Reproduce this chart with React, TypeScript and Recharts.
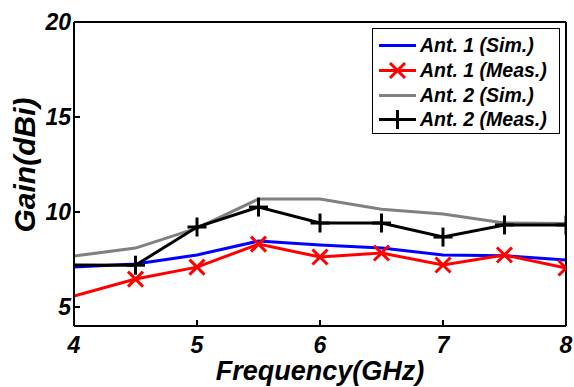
import React from 'react';
import { LineChart, Line, XAxis, YAxis } from 'recharts';

const freqs = [4, 4.5, 5, 5.5, 6, 6.5, 7, 7.5, 8];
const ant1Sim = [7.1, 7.26, 7.74, 8.47, 8.26, 8.1, 7.74, 7.7, 7.47];
const ant1Meas = [5.58, 6.47, 7.1, 8.31, 7.63, 7.84, 7.21, 7.74, 7.05];
const ant2Sim = [7.68, 8.1, 9.15, 10.68, 10.68, 10.15, 9.9, 9.42, 9.4];
const ant2Meas = [7.21, 7.2, 9.21, 10.26, 9.42, 9.42, 8.68, 9.32, 9.32];
const xTicks = [4, 5, 6, 7, 8];
const yTicks = [5, 10, 15, 20];
const seriesNames = ['Ant. 1 (Sim.)', 'Ant. 1 (Meas.)', 'Ant. 2 (Sim.)', 'Ant. 2 (Meas.)'];
const seriesColors = ['#0000ff', '#ff0000', '#808080', '#000000'];
const seriesMarkers = ['none', 'x', 'none', 'plus'];

const data = freqs.map((f, i) => ({
  f,
  a1s: ant1Sim[i],
  a1m: ant1Meas[i],
  a2s: ant2Sim[i],
  a2m: ant2Meas[i],
}));

const FONT = '"Liberation Sans", Arial, Helvetica, sans-serif';

const drawX = (cx: number, cy: number, color: string, key?: string) => {
  const s = 7.5;
  return (
    <g key={key}>
      <line x1={cx - s} y1={cy - s} x2={cx + s} y2={cy + s} stroke={color} strokeWidth={3} />
      <line x1={cx - s} y1={cy + s} x2={cx + s} y2={cy - s} stroke={color} strokeWidth={3} />
    </g>
  );
};

const drawPlus = (cx: number, cy: number, color: string, key?: string) => {
  const s = 9.5;
  return (
    <g key={key}>
      <line x1={cx - s} y1={cy} x2={cx + s} y2={cy} stroke={color} strokeWidth={3} />
      <line x1={cx} y1={cy - s} x2={cx} y2={cy + s} stroke={color} strokeWidth={3} />
    </g>
  );
};

const xDot = (props: any) => {
  const { cx, cy, index } = props;
  if (index === 0 || cx == null || cy == null) return <g key={`xd${index}`} />;
  return drawX(cx, cy, '#ff0000', `xd${index}`);
};

const plusDot = (props: any) => {
  const { cx, cy, index } = props;
  if (index === 0 || cx == null || cy == null) return <g key={`pd${index}`} />;
  return drawPlus(cx, cy, '#000000', `pd${index}`);
};

const tickStyle = {
  fill: '#000',
  fontSize: 23,
  fontWeight: 'bold' as const,
  fontStyle: 'italic' as const,
  fontFamily: FONT,
};

const YLabel = (props: any) => {
  const vb = props.viewBox || { x: 0, y: 22, width: 74, height: 304 };
  const cx = vb.x + 24;
  const cy = vb.y + vb.height / 2 - 9;
  return (
    <text
      x={cx}
      y={cy}
      dy="0.36em"
      transform={`rotate(-90 ${cx} ${cy})`}
      textAnchor="middle"
      fill="#000"
      fontSize={30}
      fontWeight="bold"
      fontStyle="italic"
      fontFamily={FONT}
    >
      Gain(dBi)
    </text>
  );
};

const axisLine = { stroke: '#000', strokeWidth: 2 };

export default function App() {
  return (
    <div style={{ position: 'absolute', left: 0, top: 0, width: 574, height: 387, background: '#fff' }}>
      <LineChart width={574} height={387} data={data} margin={{ top: 0, right: 0, bottom: 0, left: 0 }}>
        <XAxis
          xAxisId="b"
          dataKey="f"
          type="number"
          domain={[4, 8]}
          ticks={xTicks}
          allowDataOverflow
          orientation="bottom"
          height={61}
          axisLine={axisLine}
          tickLine={axisLine}
          tickSize={-6}
          tickMargin={17}
          tick={tickStyle}
          label={{
            value: 'Frequency(GHz)',
            position: 'insideBottom',
            offset: 7,
            fill: '#000',
            fontSize: 27,
            fontWeight: 'bold',
            fontStyle: 'italic',
            fontFamily: FONT,
          }}
        />
        <XAxis
          xAxisId="t"
          dataKey="f"
          type="number"
          domain={[4, 8]}
          ticks={xTicks}
          allowDataOverflow
          orientation="top"
          height={22}
          axisLine={axisLine}
          tickLine={axisLine}
          tickSize={-6}
          tick={false}
        />
        <YAxis
          yAxisId="l"
          type="number"
          domain={[4, 20]}
          ticks={yTicks}
          allowDataOverflow
          orientation="left"
          width={74}
          axisLine={axisLine}
          tickLine={axisLine}
          tickSize={-6}
          tickMargin={9}
          tick={tickStyle}
          label={{ content: YLabel }}
        />
        <YAxis
          yAxisId="r"
          type="number"
          domain={[4, 20]}
          ticks={yTicks}
          allowDataOverflow
          orientation="right"
          width={8}
          axisLine={axisLine}
          tickLine={axisLine}
          tickSize={-6}
          tick={false}
        />
        <Line xAxisId="b" yAxisId="l" type="linear" dataKey="a1s" stroke="#0000ff" strokeWidth={3} dot={false} isAnimationActive={false} />
        <Line xAxisId="b" yAxisId="l" type="linear" dataKey="a1m" stroke="#ff0000" strokeWidth={3} dot={xDot} isAnimationActive={false} />
        <Line xAxisId="b" yAxisId="l" type="linear" dataKey="a2s" stroke="#808080" strokeWidth={3} dot={false} isAnimationActive={false} />
        <Line xAxisId="b" yAxisId="l" type="linear" dataKey="a2m" stroke="#000000" strokeWidth={3} dot={plusDot} isAnimationActive={false} />
      </LineChart>
      <div
        style={{
          position: 'absolute',
          left: 372,
          top: 28,
          width: 188,
          height: 106,
          boxSizing: 'border-box',
          border: '1.5px solid #000',
          background: '#fff',
        }}
      >
        {seriesNames.map((name, i) => (
          <div
            key={name}
            style={{ position: 'absolute', left: 0, top: 4 + i * 24.8, height: 25, width: 186 }}
          >
            <svg width={44} height={25} style={{ position: 'absolute', left: 4, top: 0 }}>
              <line x1={2} y1={12.5} x2={39} y2={12.5} stroke={seriesColors[i]} strokeWidth={3} />
              {seriesMarkers[i] === 'x' ? drawX(20.5, 12.5, seriesColors[i]) : null}
              {seriesMarkers[i] === 'plus' ? drawPlus(20.5, 12.5, seriesColors[i]) : null}
            </svg>
            <span
              style={{
                position: 'absolute',
                left: 47,
                top: 0,
                lineHeight: '25px',
                fontSize: 19.5,
                fontWeight: 'bold',
                fontStyle: 'italic',
                fontFamily: FONT,
                color: '#000',
                whiteSpace: 'nowrap',
              }}
            >
              {name}
            </span>
          </div>
        ))}
      </div>
    </div>
  );
}
